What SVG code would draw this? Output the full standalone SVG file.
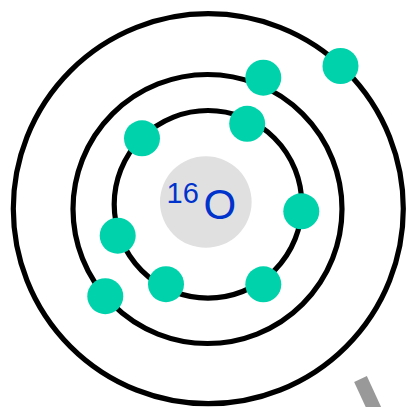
<svg xmlns="http://www.w3.org/2000/svg" width="408" height="407" viewBox="0 0 408 407">
  <style>
    .shell { fill: none; stroke: #000000; stroke-width: 5.2; }
    .e { fill: #00d2ac; }
    .lbl { font-family: "Liberation Sans", Arial, sans-serif; fill: #0033cc; }
  </style>
  <rect width="408" height="407" fill="#ffffff"/>
  <g id="shells">
    <circle id="shell3" class="shell" cx="208.3" cy="208.7" r="195"/>
    <circle id="shell2" class="shell" cx="207.5" cy="209" r="134.5"/>
    <circle id="shell1" class="shell" cx="208" cy="204.3" r="93.8"/>
  </g>
  <g id="nucleus">
    <circle cx="205.8" cy="202" r="45.8" fill="#e0e0e0"/>
    <text class="lbl" x="166.5" y="203.3" font-size="29">16</text>
    <text class="lbl" x="203.5" y="218.5" font-size="42">O</text>
  </g>
  <g id="electrons">
    <circle class="e" cx="340.5" cy="66" r="18"/>
    <circle class="e" cx="263.3" cy="77.7" r="18"/>
    <circle class="e" cx="247.2" cy="123.8" r="18"/>
    <circle class="e" cx="142" cy="138.3" r="18"/>
    <circle class="e" cx="301.3" cy="211.3" r="18"/>
    <circle class="e" cx="117.7" cy="235.7" r="18"/>
    <circle class="e" cx="105.3" cy="296.2" r="18"/>
    <circle class="e" cx="166" cy="284.2" r="18"/>
    <circle class="e" cx="263.3" cy="284.3" r="18"/>
  </g>
  <g id="bar">
    <line x1="360.5" y1="379" x2="378" y2="417" stroke="#999999" stroke-width="14"/>
  </g>
</svg>
